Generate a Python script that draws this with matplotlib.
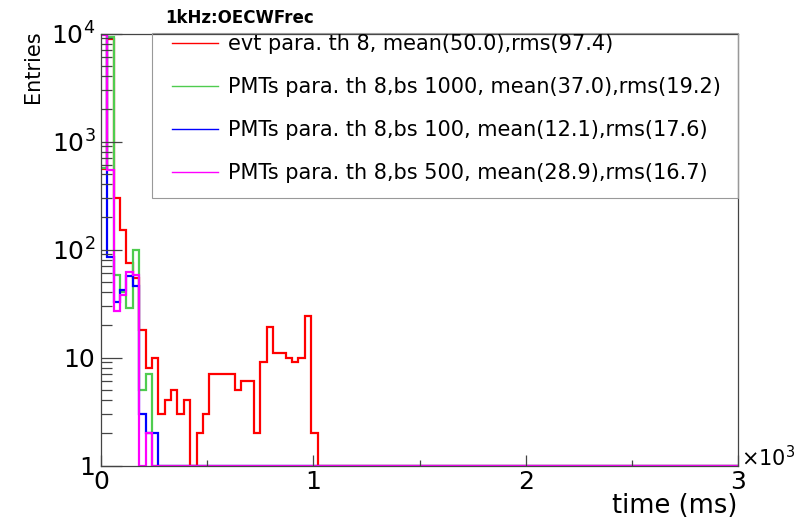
import numpy as np
import matplotlib
matplotlib.use('Agg')
import matplotlib.pyplot as plt
from matplotlib.lines import Line2D
from matplotlib.patches import Rectangle
from matplotlib.ticker import FixedLocator, FixedFormatter, NullFormatter

plt.rcParams['font.family'] = ['DejaVu Sans']
plt.rcParams['mathtext.fontset'] = 'dejavusans'

# ---- data (histograms, 100 bins of 30 over 0..3000) ----
n_bins = 100
x_lo, x_hi = 0, 3000

red_counts = [553, 8900, 298, 151, 75, 55, 18, 8, 10, 3, 4, 5, 3, 4, 0, 2, 3,
              7, 7, 7, 7, 5, 6, 6, 2, 9, 19, 11, 11, 10, 9, 10, 24, 2] + [0] * 66
green_counts = [565, 9350, 58, 40, 29, 100, 5, 7, 0] + [0] * 91
blue_counts = [10500, 85, 33, 42, 57, 46, 3, 2, 2] + [0] * 91
magenta_counts = [9700, 545, 27, 38, 62, 58, 0, 2, 0] + [0] * 91

series_labels = [
    "evt para. th 8, mean(50.0),rms(97.4)",
    "PMTs para. th 8,bs 1000, mean(37.0),rms(19.2)",
    "PMTs para. th 8,bs 100, mean(12.1),rms(17.6)",
    "PMTs para. th 8,bs 500, mean(28.9),rms(16.7)",
]
series_colors = ['#ff0000', '#4fcc4f', '#0000ff', '#ff00ff']

y_ticks = [1, 10, 100, 1000, 10000]
y_tick_labels = ['1', '10', r'$10^{2}$', r'$10^{3}$', r'$10^{4}$']
x_ticks = [0, 1000, 2000, 3000]
x_tick_labels = ['0', '1', '2', '3']
x_minor = [500, 1500, 2500]

edges = np.linspace(x_lo, x_hi, n_bins + 1)

fig = plt.figure(figsize=(8.08, 5.21), dpi=100)
ax = fig.add_axes([101 / 808, 1 - 465.5 / 521, 637 / 808, 432 / 521])

all_counts = [red_counts, green_counts, blue_counts, magenta_counts]
for counts, col in zip(all_counts, series_colors):
    vals = np.maximum(np.array(counts, dtype=float), 1.0)
    ax.stairs(vals, edges, color=col, lw=1.6, baseline=None)

ax.set_yscale('log')
ax.set_ylim(1, 1e4)
ax.set_xlim(x_lo, x_hi)

ax.yaxis.set_major_locator(FixedLocator(y_ticks))
ax.yaxis.set_major_formatter(FixedFormatter(y_tick_labels))
minor_y = [m * d for d in [1, 10, 100, 1000] for m in range(2, 10)]
ax.yaxis.set_minor_locator(FixedLocator(minor_y))
ax.yaxis.set_minor_formatter(NullFormatter())

ax.xaxis.set_major_locator(FixedLocator(x_ticks))
ax.xaxis.set_major_formatter(FixedFormatter(x_tick_labels))
ax.xaxis.set_minor_locator(FixedLocator(x_minor))

ax.tick_params(axis='y', which='major', direction='in', length=15, width=0.9,
               labelsize=18, pad=4, color='#444444')
ax.tick_params(axis='y', which='minor', direction='in', length=7.7, width=0.9,
               color='#444444')
ax.tick_params(axis='x', which='major', direction='in', length=8, width=0.9,
               labelsize=18, pad=3, color='#444444')
ax.tick_params(axis='x', which='minor', direction='in', length=4, width=0.9,
               color='#444444')
for sp in ax.spines.values():
    sp.set_color('#444444')
    sp.set_linewidth(0.9)

# legend box
box = Rectangle(((152 - 101) / 637, (465.5 - 198) / 432),
                1 - (152 - 101) / 637, 1 - (465.5 - 198) / 432,
                transform=ax.transAxes, fill=False, edgecolor='#999999',
                lw=0.8, clip_on=False, zorder=5)
ax.add_patch(box)

fs = 15
fs_px = fs * 100 / 72
handles = [Line2D([], [], color=c, lw=1.0) for c in series_colors]
ax.legend(handles, series_labels, loc='upper left',
          bbox_to_anchor=((172 - 101) / 637, 1.0 - 1.0 / 432), frameon=False,
          borderpad=0, borderaxespad=0, fontsize=fs,
          handlelength=46 / fs_px, handletextpad=10 / fs_px,
          labelspacing=1.1)

fig.text(165 / 808, 1 - 18 / 521, '1kHz:OECWFrec', fontsize=12,
         fontweight='bold', ha='left', va='center')
fig.text(33 / 808, 1 - 30 / 521, 'Entries', fontsize=15, rotation=90,
         ha='center', va='top')
fig.text(737 / 808, 1 - 506 / 521, 'time (ms)', fontsize=18.5,
         ha='right', va='center')
ax.text(1.005, (465.5 - 458) / 432, r'$\times10^{3}$', transform=ax.transAxes,
        fontsize=15, ha='left', va='center')

fig.savefig('out.png', dpi=100)
